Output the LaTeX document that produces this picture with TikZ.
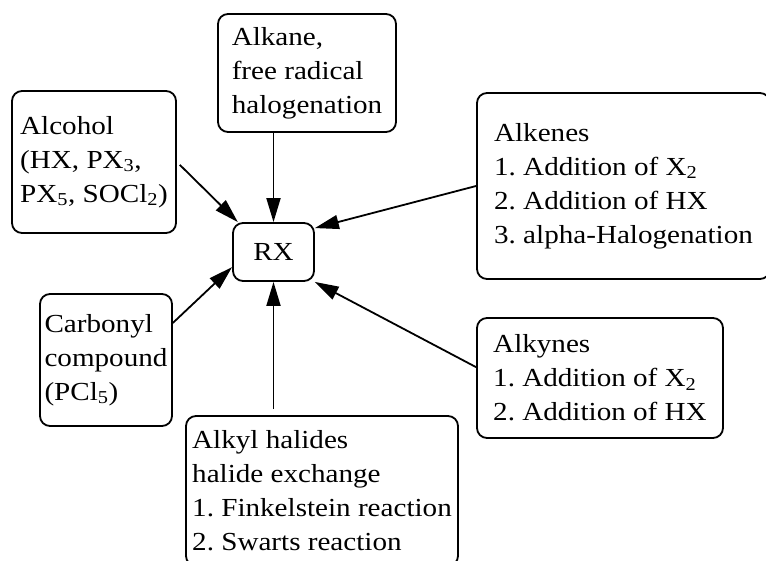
\documentclass[tikz,border=0pt]{standalone}
\usepackage{fontspec}
\setmainfont[FakeStretch=1.12]{Liberation Serif}
\usepackage{tikz}
\usetikzlibrary{arrows.meta,positioning}
\frenchspacing

\begin{document}
\begin{tikzpicture}[on grid,auto,line width=1.8pt,
    >={Triangle[length=24pt,width=14pt]},
    box/.style={draw,rounded corners=10pt,align=left,inner xsep=4pt,inner ysep=4pt,
        font=\fontsize{26}{34}\selectfont}]
			\useasboundingbox (-273.5pt,252pt) rectangle (492.5pt,-309pt);
			\node[box,minimum width=81pt,minimum height=58pt] (rx) at (0,0) {RX};
			\node[box,minimum width=178pt,minimum height=118pt] (alkane) [above right=179pt and 33.5pt of rx] {Alkane,\\free radical\\halogenation};
			\node[box,minimum width=164pt,minimum height=142pt] (alcohol) [above left=90pt and 179.5pt of rx] {Alcohol\\(HX, PX\textsubscript{3},\\PX\textsubscript{5}, SOCl\textsubscript{2})};
			\node[box,minimum width=293pt,minimum height=186pt] (alkenes) [above right=66pt and 350pt of rx] {Alkenes\\1. Addition of X\textsubscript{2}\\2. Addition of HX\\3. alpha-Halogenation};
			\node[box,minimum width=132pt,minimum height=132pt] (carbonyl) [below left=108pt and 167.5pt of rx] {Carbonyl\\compound\\(PCl\textsubscript{5})};
			\node[box,minimum width=272pt,minimum height=150pt] (alkyl) [below right=239pt and 48.5pt of rx] {Alkyl halides\\halide exchange\\1. Finkelstein reaction\\2. Swarts reaction};
			\node[box,minimum width=246pt,minimum height=120pt] (alkynes) [below right=126pt and 326.5pt of rx] {Alkynes\\1. Addition of X\textsubscript{2}\\2. Addition of HX};
			\path[->]
			(alkane.south -| rx.north) edge (rx.north)
			(alcohol.east) edge [shorten <=4pt] (rx.140)
			(alkenes.west) edge (rx.30)
			(carbonyl.29) edge (rx.200)
			(alkyl.north -| rx.south) edge [shorten <=6pt] (rx.south)
			(alkynes.175) edge (rx.-36);
		\end{tikzpicture}
\end{document}
